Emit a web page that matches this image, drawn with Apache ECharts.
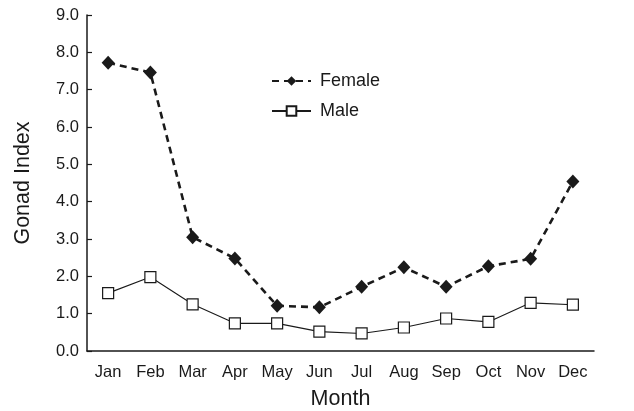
<!DOCTYPE html>
<html>
<head>
<meta charset="utf-8">
<script src="https://cdn.jsdelivr.net/npm/echarts@6/dist/echarts.min.js"></script>
<style>html,body{margin:0;padding:0;background:#fff}#c{width:634px;height:411px}</style>
</head>
<body>
<div id="c"></div>
<script>
// Monthly gonad index by sex
const months = ['Jan','Feb','Mar','Apr','May','Jun','Jul','Aug','Sep','Oct','Nov','Dec'];
const female = [7.72, 7.46, 3.05, 2.48, 1.21, 1.17, 1.72, 2.24, 1.72, 2.27, 2.47, 4.54];
const male = [1.55, 1.98, 1.25, 0.74, 0.74, 0.52, 0.47, 0.63, 0.87, 0.78, 1.29, 1.24];

const FONT = 'Liberation Sans, Arial, sans-serif';
const INK = '#1a1a1a';

const chart = echarts.init(document.getElementById('c'), null, {renderer: 'canvas'});
chart.setOption({
  animation: false,
  backgroundColor: '#fff',
  grid: {left: 87, right: 40, top: 15, bottom: 60, containLabel: false, outerBoundsMode: 'none'},
  legend: {
    orient: 'vertical',
    left: 266,
    top: 67,
    itemWidth: 39,
    itemHeight: 12,
    itemGap: 12,
    textStyle: {fontFamily: FONT, fontSize: 18, color: INK, padding: [0, 0, 0, 4]},
    data: ['Female', 'Male']
  },
  xAxis: {
    type: 'category',
    data: months,
    boundaryGap: true,
    name: 'Month',
    nameLocation: 'middle',
    nameGap: 37,
    nameTextStyle: {fontFamily: FONT, fontSize: 21.5, color: INK},
    axisLine: {lineStyle: {color: INK, width: 1.5}},
    axisTick: {inside: true, length: 5, lineStyle: {color: INK, width: 1.2}},
    axisLabel: {fontFamily: FONT, fontSize: 16.5, color: INK, margin: 13}
  },
  yAxis: {
    type: 'value',
    min: 0,
    max: 9,
    interval: 1,
    name: 'Gonad Index',
    nameLocation: 'middle',
    nameGap: 53,
    nameTextStyle: {fontFamily: FONT, fontSize: 21.5, color: INK},
    splitLine: {show: false},
    axisLine: {show: true, lineStyle: {color: INK, width: 1.5}},
    axisTick: {show: true, inside: true, length: 5, lineStyle: {color: INK, width: 1.2}},
    axisLabel: {fontFamily: FONT, fontSize: 16.5, color: INK, margin: 8, formatter: v => v.toFixed(1)}
  },
  series: [
    {
      name: 'Female',
      type: 'line',
      data: female,
      symbol: 'diamond',
      symbolSize: [13, 14],
      lineStyle: {color: INK, width: 2.6, type: [7, 5]},
      itemStyle: {color: INK, borderWidth: 0}
    },
    {
      name: 'Male',
      type: 'line',
      data: male,
      symbol: 'rect',
      symbolSize: 11,
      lineStyle: {color: INK, width: 1.1},
      itemStyle: {color: '#fff', borderColor: INK, borderWidth: 1.2}
    }
  ]
});
</script>
</body>
</html>
